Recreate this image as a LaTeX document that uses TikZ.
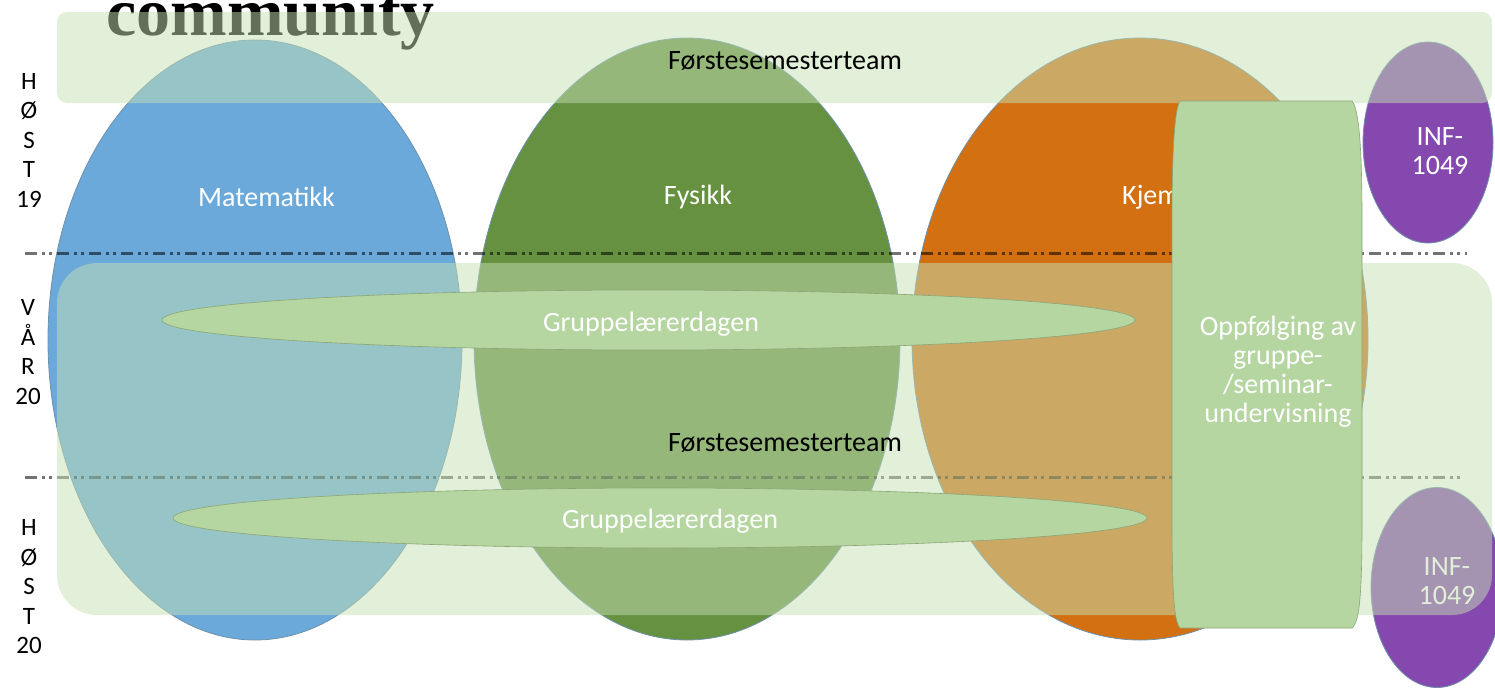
\documentclass[tikz,border=0pt]{standalone}
\usepackage{fontspec}
\setmainfont{Carlito}
\newfontfamily\serifbold{Liberation Serif}
\definecolor{cblue}{RGB}{106,169,218}
\definecolor{cgreen}{RGB}{101,145,65}
\definecolor{corange}{RGB}{210,112,18}
\definecolor{cpurple}{RGB}{133,72,174}
\definecolor{cband}{RGB}{197,224,180}
\definecolor{cpill}{RGB}{181,214,160}
\definecolor{cedge}{RGB}{110,145,170}
\definecolor{cpilledge}{RGB}{140,165,120}
\begin{document}
\begin{tikzpicture}[x=1pt,y=-1pt,
  subj/.style={fill=#1,draw=cedge,line width=0.8pt},
  band/.style={fill=cband,fill opacity=0.5,draw=none},
  pill/.style={fill=cpill,draw=cpilledge,line width=0.6pt},
  wtext/.style={text=white,font=\fontsize{28}{29}\selectfont,align=center,inner sep=0pt},
  btext/.style={text=black,font=\fontsize{28}{29}\selectfont,align=center,inner sep=0pt},
  side/.style={text=black,font=\fontsize{25}{29.5}\selectfont,align=center,inner sep=0pt},
  divider/.style={draw=black,draw opacity=0.55,line width=3pt,dash pattern=on 12pt off 5pt on 3pt off 4pt on 3pt off 5pt}]
\useasboundingbox (0,0) rectangle (1495,688);
% subject ellipses
\draw[subj=cblue] (255,340) ellipse [x radius=207, y radius=300];
\draw[subj=cgreen] (687,339) ellipse [x radius=213, y radius=301];
\draw[subj=corange] (1140,339) ellipse [x radius=228, y radius=301];
\draw[subj=cpurple] (1428,142.5) ellipse [x radius=65, y radius=100.5];
\draw[subj=cpurple] (1437,587.5) ellipse [x radius=66, y radius=100];
% labels inside ellipses
\node[wtext] (mat) at (266.5,197) {Matematikk};
\node[wtext] (fys) at (698,197) {Fysikk};
\node[wtext,anchor=west] (kje) at (1122,197) {Kjemi};
\node[wtext] (inf1) at (1440,151) {INF-\\1049};
\node[wtext] (inf2) at (1447,581) {INF-\\1049};
% community text
\node[anchor=base west,inner sep=0pt,text=black,font=\serifbold\bfseries\fontsize{68}{70}\selectfont] (comm) at (106,35) {community};
% dividers
\coordinate (d1a) at (25,253); \coordinate (d1b) at (1467,253);
\coordinate (d2a) at (25,477); \coordinate (d2b) at (1462,477);
\draw[divider] (d1a) -- (d1b);
\draw[divider] (d2a) -- (d2b);
% translucent bands
\path[band,rounded corners=10pt] (57,12) rectangle (1492,103);
\path[band,rounded corners=40pt] (57,263) rectangle (1492,615);
\node[btext] (fst1) at (785,61) {Førstesemesterteam};
\node[btext] (fst2) at (785,443) {Førstesemesterteam};
% Gruppelærerdagen
\draw[pill] (648.5,320) ellipse [x radius=486.5, y radius=30];
\node[wtext] (gl1) at (651,324) {Gruppelærerdagen};
\draw[pill] (660,518) ellipse [x radius=487, y radius=30];
\node[wtext] (gl2) at (670,521) {Gruppelærerdagen};
% Oppfolging box
\draw[pill] (1180,101) -- (1352,101) .. controls (1360,110) and (1362,160) .. (1362,220)
  -- (1362,520) .. controls (1362,590) and (1360,622) .. (1352,628)
  -- (1180,628) .. controls (1174,622) and (1172,590) .. (1172,520)
  -- (1172,220) .. controls (1172,160) and (1174,110) .. (1180,101) -- cycle;
\node[wtext] (opp) at (1278,372) {Oppfølging av\\gruppe-\\/seminar-\\undervisning};
% side labels
\node[side] (h19) at (29,140) {H\\Ø\\S\\T\\19};
\node[side] (v20) at (28,352) {V\\Å\\R\\20};
\node[side] (h20) at (29,587) {H\\Ø\\S\\T\\20};
\end{tikzpicture}
\end{document}
